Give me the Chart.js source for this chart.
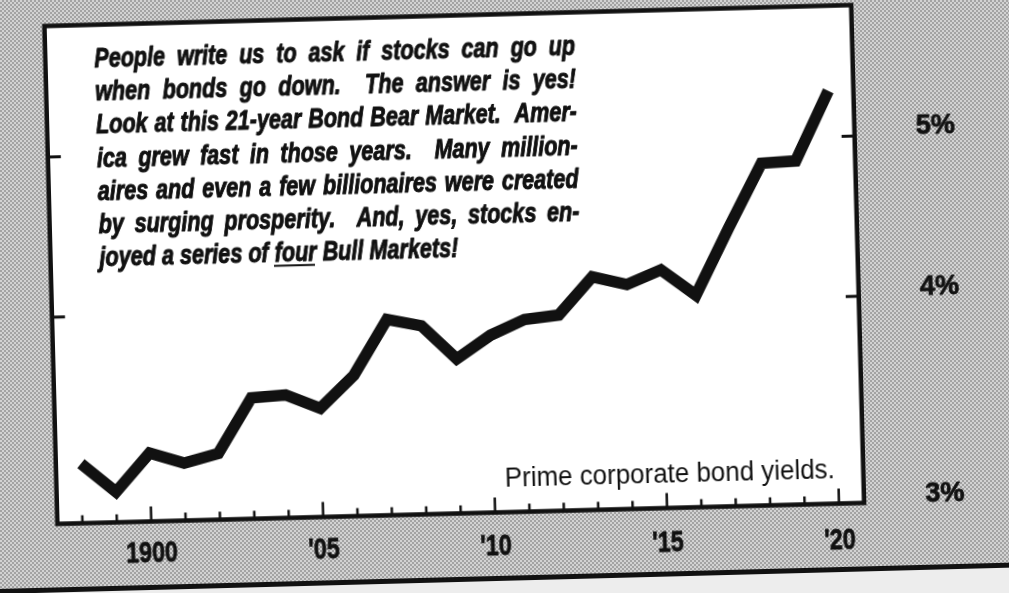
<!DOCTYPE html>
<html>
<head>
<meta charset="utf-8">
<title>Prime corporate bond yields</title>
<script src="https://cdn.jsdelivr.net/npm/chart.js@4.4.1/dist/chart.umd.min.js"></script>
<style>
  html, body { margin: 0; padding: 0; }
  body {
    width: 1009px; height: 593px; overflow: hidden; position: relative;
    background-color: #bdbdbd;
    background-image: conic-gradient(#a3a3a3 25%, #d2d2d2 0 50%, #a3a3a3 0 75%, #d2d2d2 0);
    background-size: 4px 4px;
  }
  /* the scan is a little crooked, so the whole sheet is turned */
  #wrap {
    position: absolute; left: -50px; top: -30px; width: 1110px; height: 680px;
    transform: rotate(-1.49deg); transform-origin: 504px 294px;
  }
</style>
</head>
<body>
<div id="wrap"><canvas id="myChart" width="1110" height="680"></canvas></div>
<script>
var years = [1898, 1899, 1900, 1901, 1902, 1903, 1904, 1905, 1906, 1907, 1908, 1909,
             1910, 1911, 1912, 1913, 1914, 1915, 1916, 1917, 1918, 1919, 1920]
var yields = [3.26, 3.13, 3.30, 3.25, 3.29, 3.55, 3.56, 3.49, 3.65, 3.94, 3.90, 3.72,
              3.84, 3.92, 3.94, 4.15, 4.10, 4.18, 4.03, 4.42, 4.83, 4.84, 5.33]

var xTickYears = [1900, 1905, 1910, 1915, 1920]
var xTickLabels = ['1900', "'05", "'10", "'15", "'20"]
var yTickValues = [5, 4, 3]
var yTickLabels = ['5%', '4%', '3%']

var note = [
  'People write us to ask if stocks can go up',
  'when bonds go down.  The answer is yes!',
  'Look at this 21-year Bond Bear Market.  Amer-',
  'ica grew fast in those years.  Many million-',
  'aires and even a few billionaires were created',
  'by surging prosperity.  And, yes, stocks en-',
  'joyed a series of four Bull Markets!'
]
var underlined = 'four'
var caption = 'Prime corporate bond yields.'

var FONT = '"Liberation Sans", Arial, Helvetica, sans-serif'
var INK = '#111'

// condensed text; heavy=true adds a thin outline to thicken the strokes
function squeezed(ctx, text, x, y, sx, align, heavy) {
  ctx.save()
  ctx.translate(x, y)
  ctx.scale(sx, 1)
  ctx.textAlign = align
  ctx.fillText(text, 0, 0)
  if (heavy) {
    ctx.lineWidth = heavy
    ctx.lineJoin = 'round'
    ctx.strokeText(text, 0, 0)
  }
  ctx.restore()
}

// justified line, the way the typesetter did it
function justifyLine(ctx, line, x, y, width, sx, stretch) {
  var parts = line.split(/( +)/)
  var space = ctx.measureText(' ').width * sx
  var wordsW = 0, gaps = 0
  parts.forEach(function(p) {
    if (p === '') return
    if (p.trim() === '') gaps += p.length
    else wordsW += ctx.measureText(p).width * sx
  })
  var k = 1
  var gap = space
  var natural = wordsW + gaps * space
  if (natural > width) {
    k = width / natural
    gap = space * k
  } else if (stretch && gaps > 0) {
    gap = (width - wordsW) / gaps
  }
  var cx = x
  parts.forEach(function(p) {
    if (p === '') return
    if (p.trim() === '') { cx += gap * p.length; return }
    var w = ctx.measureText(p).width * sx * k
    squeezed(ctx, p, cx, y, sx * k, 'left', 1)
    if (p.replace(/[^a-z]/gi, '') === underlined) {
      ctx.fillRect(cx - 1, y + 3, w - 1, 2)
    }
    cx += w
  })
}

var paper = {
  id: 'paper',
  beforeDraw: function(chart) {
    var ctx = chart.ctx, a = chart.chartArea
    ctx.save()
    ctx.fillStyle = '#ededed'
    ctx.fillRect(0, 612, chart.width, 80)
    ctx.fillStyle = INK
    ctx.fillRect(0, 607, chart.width, 5)
    ctx.fillStyle = '#fff'
    ctx.fillRect(a.left, a.top, a.right - a.left, a.bottom - a.top)
    ctx.restore()
  },
  afterDatasetsDraw: function(chart) {
    var ctx = chart.ctx, a = chart.chartArea
    var xs = chart.scales.x, ys = chart.scales.y
    ctx.save()
    ctx.strokeStyle = INK
    ctx.fillStyle = INK
    ctx.lineWidth = 4.5
    ctx.strokeRect(a.left, a.top, a.right - a.left, a.bottom - a.top)

    // year ticks point up from the bottom edge
    ctx.lineWidth = 2.5
    ctx.beginPath()
    years.forEach(function(yr) {
      var px = xs.getPixelForValue(yr)
      var len = yr % 5 === 0 ? 15 : 8
      ctx.moveTo(px, a.bottom)
      ctx.lineTo(px, a.bottom - len)
    })
    ctx.stroke()

    // percent ticks on both sides
    ctx.lineWidth = 3
    ctx.beginPath()
    yTickValues.forEach(function(v) {
      if (v <= ys.min) return
      var py = ys.getPixelForValue(v)
      ctx.moveTo(a.left, py)
      ctx.lineTo(a.left + 13, py)
      ctx.moveTo(a.right, py)
      ctx.lineTo(a.right - 13, py)
    })
    ctx.stroke()

    ctx.textBaseline = 'alphabetic'
    ctx.font = 'bold 29px ' + FONT
    xTickYears.forEach(function(yr, i) {
      var px = xs.getPixelForValue(yr)
      // the printed labels sit a bit flatter than the frame
      var lift = 5 * (1920 - yr) / 20
      squeezed(ctx, xTickLabels[i], px, a.bottom + 45 - lift, 0.8, 'center', 0.8)
    })

    ctx.font = 'bold 27px ' + FONT
    yTickValues.forEach(function(v, i) {
      squeezed(ctx, yTickLabels[i], a.right + 81, ys.getPixelForValue(v), 1, 'center', 0.8)
    })

    ctx.font = 'italic bold 27px ' + FONT
    note.forEach(function(line, i) {
      justifyLine(ctx, line, a.left + 49, a.top + 42.5 + i * 33.2, 481, 0.8, i < note.length - 1)
    })

    ctx.font = '27px ' + FONT
    var cw = ctx.measureText(caption).width
    squeezed(ctx, caption, a.right - 28.5, a.bottom - 25.5, 330 / cw, 'right')
    ctx.restore()
  }
}

var points = years.map(function(yr, i) { return { x: yr, y: yields[i] } })

var chart = new Chart(document.getElementById('myChart').getContext('2d'), {
  type: 'line',
  data: {
    datasets: [{
      label: 'Prime corporate bond yields',
      data: points,
      borderColor: INK,
      borderWidth: 11.5,
      borderJoinStyle: 'miter',
      borderCapStyle: 'butt',
      pointRadius: 0,
      tension: 0,
      fill: false
    }]
  },
  options: {
    responsive: false,
    devicePixelRatio: 1,
    animation: false,
    events: [],
    layout: { padding: { left: 100.75, top: 45.5, right: 202.25, bottom: 136.5 } },
    scales: {
      x: { type: 'linear', min: 1897.27, max: 1920.73, display: false },
      y: { type: 'logarithmic', min: 3, max: 6, display: false }
    },
    plugins: { legend: { display: false }, tooltip: { enabled: false } }
  },
  plugins: [paper]
})
</script>
</body>
</html>
